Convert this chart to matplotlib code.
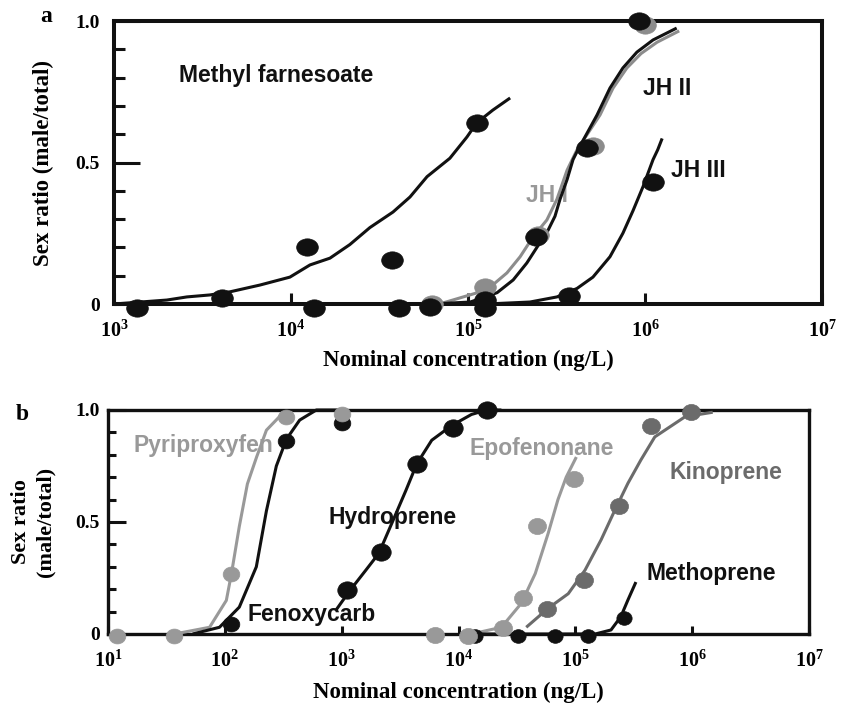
import numpy as np
import matplotlib
matplotlib.use('Agg')
import matplotlib.pyplot as plt
from matplotlib.path import Path
from matplotlib.transforms import Affine2D
from matplotlib.ticker import FixedLocator, NullLocator

# ---- panel a data (concentration ng/L, sex ratio) ----
mf_x = [1.35e3, 4.1e3, 1.23e4, 1.35e4, 3.7e4, 4.08e4, 1.12e5]
mf_y = [-0.015, 0.02, 0.20, -0.015, 0.155, -0.015, 0.64]
mf_fit_x = [1e3, 1.99e3, 2.58e3, 3.48e3, 4.52e3, 6.68e3, 9.86e3, 1.28e4, 1.66e4, 2.15e4,
            2.79e4, 3.77e4, 4.7e4, 5.87e4, 7.9e4, 9.86e4, 1.12e5, 1.38e5, 1.73e5]
mf_fit_y = [0.0, 0.014, 0.025, 0.032, 0.043, 0.067, 0.095, 0.138, 0.162, 0.21,
            0.27, 0.325, 0.378, 0.45, 0.515, 0.59, 0.64, 0.685, 0.728]

jh1_x = [6.3e4, 1.25e5, 2.5e5, 5.1e5, 1.0e6]
jh1_y = [0.0, 0.06, 0.245, 0.56, 0.985]
jh1_fit_x = [6.9e4, 1.28e5, 1.66e5, 1.97e5, 2.33e5, 2.79e5, 3.18e5, 3.63e5, 4.13e5,
             5.57e5, 6.6e5, 7.9e5, 9.5e5, 1.17e6, 1.56e6]
jh1_fit_y = [0.0, 0.05, 0.11, 0.167, 0.237, 0.297, 0.37, 0.473, 0.545,
             0.668, 0.763, 0.834, 0.885, 0.925, 0.965]

jh2_x = [6.1e4, 1.25e5, 2.42e5, 4.7e5, 9.3e5]
jh2_y = [-0.01, 0.015, 0.235, 0.55, 1.0]
jh2_fit_x = [6.3e4, 1.03e5, 1.46e5, 1.8e5, 2.15e5, 2.45e5, 2.83e5, 3.1e5, 3.31e5, 3.63e5,
             3.92e5, 4.18e5, 5.36e5, 6.34e5, 7.5e5, 9.0e5, 1.11e6, 1.51e6]
jh2_fit_y = [0.0, 0.007, 0.04, 0.085, 0.145, 0.20, 0.26, 0.31, 0.37, 0.44,
             0.51, 0.545, 0.668, 0.763, 0.834, 0.89, 0.933, 0.975]

jh3_x = [1.25e5, 3.7e5, 1.11e6]
jh3_y = [-0.015, 0.03, 0.43]
jh3_fit_x = [1.28e5, 2.24e5, 3.18e5, 4.13e5, 5.08e5, 6.34e5, 7.5e5, 8.56e5, 9.75e5, 1.11e6, 1.18e6, 1.25e6]
jh3_fit_y = [0.0, 0.007, 0.025, 0.055, 0.095, 0.167, 0.25, 0.33, 0.415, 0.51, 0.545, 0.585]

# ---- panel b data ----
pyr_x = [12, 37, 112, 337, 1000]
pyr_y = [-0.01, -0.01, 0.27, 0.97, 0.98]
pyr_fit_x = [37, 74, 103, 114, 133, 156, 187, 227, 293, 380]
pyr_fit_y = [0.0, 0.03, 0.15, 0.27, 0.48, 0.67, 0.79, 0.91, 0.97, 0.99]

fen_x = [112, 337, 1000]
fen_y = [0.045, 0.86, 0.94]
fen_fit_x = [53, 90, 133, 186, 227, 276, 337, 437, 607, 1000]
fen_fit_y = [0.0, 0.03, 0.12, 0.30, 0.55, 0.75, 0.87, 0.955, 1.0, 1.0]

hyd_x = [1.11e3, 2.17e3, 4.4e3, 8.9e3, 1.74e4]
hyd_y = [0.196, 0.366, 0.76, 0.92, 1.0]
hyd_fit_x = [895, 1.16e3, 1.61e3, 2.08e3, 2.69e3, 3.54e3, 4.4e3, 5.9e3, 8.7e3, 1.29e4, 1.74e4, 2.33e4]
hyd_fit_y = [0.107, 0.19, 0.285, 0.36, 0.495, 0.64, 0.76, 0.865, 0.93, 0.98, 1.0, 1.0]

epo_x = [6.25e3, 1.2e4, 2.42e4, 3.59e4, 4.72e4, 9.77e4]
epo_y = [-0.005, -0.01, 0.027, 0.16, 0.48, 0.69]
epo_fit_x = [1.29e4, 2.33e4, 3.45e4, 4.54e4, 5.86e4, 7.1e4, 8.35e4, 1.02e5]
epo_fit_y = [0.0, 0.03, 0.137, 0.27, 0.45, 0.60, 0.70, 0.79]

kin_x = [5.75e4, 1.19e5, 2.36e5, 4.43e5, 9.8e5]
kin_y = [0.11, 0.24, 0.57, 0.93, 0.99]
kin_fit_x = [3.8e4, 5.86e4, 8.7e4, 1.21e5, 1.66e5, 2.18e5, 2.82e5, 3.64e5, 4.79e5, 8.7e5, 1.5e6]
kin_fit_y = [0.03, 0.115, 0.18, 0.285, 0.42, 0.553, 0.673, 0.777, 0.88, 0.97, 0.99]

met_x = [1.38e4, 3.24e4, 6.7e4, 1.29e5, 2.6e5]
met_y = [-0.01, -0.01, -0.01, -0.01, 0.07]
met_fit_x = [1.48e4, 1.48e5, 2.02e5, 2.45e5, 2.82e5, 3.3e5]
met_fit_y = [0.0, 0.0, 0.018, 0.077, 0.152, 0.232]

BLACK = '#111111'
LGRAY = '#999999'
DGRAY = '#6b6b6b'

plt.rcParams['font.family'] = ['Liberation Serif', 'DejaVu Serif']
plt.rcParams['font.weight'] = 'bold'
plt.rcParams['axes.labelweight'] = 'bold'
plt.rcParams['mathtext.fontset'] = 'custom'
plt.rcParams['mathtext.rm'] = 'Liberation Serif:bold'
plt.rcParams['mathtext.bf'] = 'Liberation Serif:bold'

ELL_A = Path.unit_circle().transformed(Affine2D().scale(1.25, 1.0))
ELL_B = Path.unit_circle().transformed(Affine2D().scale(1.12, 1.0))
SANS = dict(family='Liberation Sans', fontweight='bold', fontsize=16.5, zorder=2)


def curve(ax, x, y, color, lw=2.2):
    ax.plot(x, y, color=color, lw=lw, zorder=3, clip_on=False,
            solid_capstyle='butt', solid_joinstyle='round')


def dots(ax, x, y, color, marker, size):
    ax.plot(x, y, ls='none', marker=marker, ms=size, color=color,
            mec=color, mew=0.5, zorder=4, clip_on=False)


def style_axes(ax, xmin, spine_w, ylen_major, ylen_minor, xlen, ypad):
    ax.set_xscale('log')
    ax.set_xlim(xmin, 1e7)
    ax.set_ylim(0, 1)
    for s in ax.spines.values():
        s.set_linewidth(spine_w)
        s.set_color(BLACK)
    dec = [10.0 ** k for k in range(int(np.log10(xmin)), 8)]
    ax.xaxis.set_major_locator(FixedLocator(dec))
    ax.set_xticklabels([r'$\mathbf{10^{%d}}$' % int(np.log10(d)) for d in dec])
    ax.xaxis.set_minor_locator(NullLocator())
    ax.set_yticks([0, 0.5, 1.0])
    ax.set_yticklabels(['0', '0.5', '1.0'])
    ax.yaxis.set_minor_locator(FixedLocator([0.1, 0.2, 0.3, 0.4, 0.6, 0.7, 0.8, 0.9]))
    ax.tick_params(axis='y', which='major', direction='in', length=ylen_major, width=2.2,
                   pad=ypad, labelsize=14, color=BLACK)
    ax.tick_params(axis='y', which='minor', direction='in', length=ylen_minor, width=2.2, color=BLACK)
    ax.tick_params(axis='x', which='major', direction='in', length=xlen, width=2.2,
                   pad=12, labelsize=14.5, color=BLACK)


fig = plt.figure(figsize=(8.46, 7.04), dpi=100)

# ---------------- panel a ----------------
ax_a = fig.add_axes([114 / 846, 1 - 304 / 704, 708 / 846, 283 / 704])
style_axes(ax_a, 1e3, 2.9, 19, 8, 8, 10)

curve(ax_a, mf_fit_x, mf_fit_y, BLACK)
curve(ax_a, jh1_fit_x, jh1_fit_y, '#8c8c8c')
curve(ax_a, jh2_fit_x, jh2_fit_y, BLACK)
curve(ax_a, jh3_fit_x, jh3_fit_y, BLACK)

dots(ax_a, mf_x, mf_y, BLACK, ELL_A, 15.6)
dots(ax_a, jh1_x, jh1_y, '#8c8c8c', ELL_A, 15.6)
dots(ax_a, jh2_x, jh2_y, BLACK, ELL_A, 15.6)
dots(ax_a, jh3_x, jh3_y, BLACK, ELL_A, 15.6)

ax_a.text(8.2e3, 0.806, 'Methyl farnesoate', color=BLACK, ha='center', va='center', **SANS)
ax_a.text(1.33e6, 0.76, 'JH II', color=BLACK, ha='center', va='center', **SANS)
ax_a.text(2.0e6, 0.47, 'JH III', color=BLACK, ha='center', va='center', **SANS)
ax_a.text(2.8e5, 0.385, 'JH I', color=LGRAY, ha='center', va='center', **SANS)

ax_a.set_xlabel('Nominal concentration (ng/L)', fontsize=16.5, va='center')
ax_a.xaxis.set_label_coords(0.5, -0.198)
ax_a.set_ylabel('Sex ratio (male/total)', fontsize=16.5, va='center')
ax_a.yaxis.set_label_coords(-0.100, 0.5)

# ---------------- panel b ----------------
ax_b = fig.add_axes([108 / 846, 1 - 634 / 704, 701 / 846, 224 / 704])
style_axes(ax_b, 1e1, 2.4, 13, 6, 5.5, 6)

curve(ax_b, pyr_fit_x, pyr_fit_y, LGRAY)
curve(ax_b, fen_fit_x, fen_fit_y, BLACK)
curve(ax_b, hyd_fit_x, hyd_fit_y, BLACK)
curve(ax_b, epo_fit_x, epo_fit_y, LGRAY)
curve(ax_b, kin_fit_x, kin_fit_y, DGRAY)
curve(ax_b, met_fit_x, met_fit_y, BLACK)

dots(ax_b, fen_x, fen_y, BLACK, ELL_B, 12)
dots(ax_b, pyr_x, pyr_y, LGRAY, ELL_B, 12)
dots(ax_b, hyd_x, hyd_y, BLACK, ELL_B, 14)
dots(ax_b, met_x, met_y, BLACK, ELL_B, 11)
dots(ax_b, epo_x, epo_y, LGRAY, ELL_B, 13)
dots(ax_b, kin_x, kin_y, DGRAY, ELL_B, 13)

ax_b.text(65, 0.84, 'Pyriproxyfen', color=LGRAY, ha='center', va='center', **SANS)
ax_b.text(550, 0.085, 'Fenoxycarb', color=BLACK, ha='center', va='center', **SANS)
ax_b.text(2.75e3, 0.52, 'Hydroprene', color=BLACK, ha='center', va='center', **SANS)
ax_b.text(5.2e4, 0.83, 'Epofenonane', color=LGRAY, ha='center', va='center', **SANS)
ax_b.text(1.94e6, 0.72, 'Kinoprene', color=DGRAY, ha='center', va='center', **SANS)
ax_b.text(1.45e6, 0.27, 'Methoprene', color=BLACK, ha='center', va='center', **SANS)

ax_b.set_xlabel('Nominal concentration (ng/L)', fontsize=16.5, va='center')
ax_b.xaxis.set_label_coords(0.5, -0.259)
ax_b.set_ylabel('Sex ratio\n(male/total)', fontsize=16, va='center', linespacing=1.3)
ax_b.yaxis.set_label_coords(-0.107, 0.5)

fig.text(46 / 846, 1 - 17 / 704, 'a', fontsize=17, ha='center', va='center')
fig.text(22 / 846, 1 - 415 / 704, 'b', fontsize=17, ha='center', va='center')

fig.savefig('out.png', dpi=100)
